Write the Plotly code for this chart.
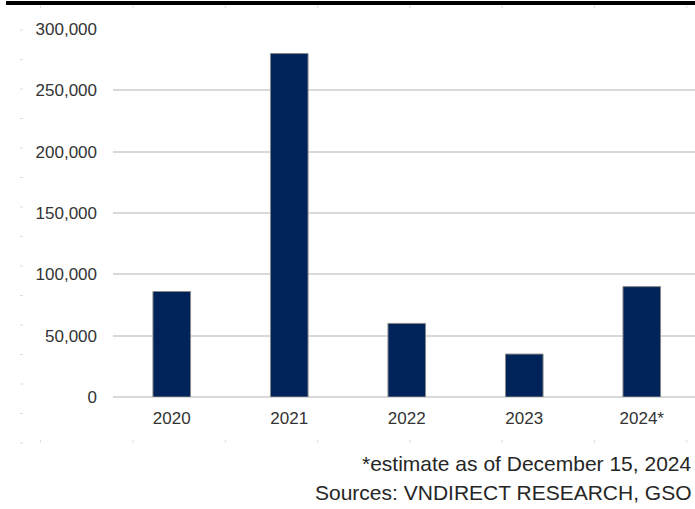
import plotly.graph_objects as go

categories = ["2020", "2021", "2022", "2023", "2024*"]
values = [86000, 280000, 60000, 35000, 90000]
y_ticks = [0, 50000, 100000, 150000, 200000, 250000, 300000]
y_tick_labels = ["0", "50,000", "100,000", "150,000", "200,000", "250,000", "300,000"]
note_lines = ["*estimate as of December 15, 2024", "Sources: VNDIRECT RESEARCH, GSO"]

W, H = 695, 509
ML, MR, MT, MB = 113, 0, 29, 112
PW, PH = W - ML - MR, H - MT - MB

def px_x(x):
    return (x - ML) / PW

def px_y(y):
    return (H - MB - y) / PH

fig = go.Figure()
fig.add_trace(go.Bar(
    x=categories, y=values, width=0.32,
    marker=dict(color="#00245a", line=dict(color="#8a8a8a", width=1)),
    hoverinfo="x+y",
))

shapes = []
# top black rule
shapes.append(dict(type="line", xref="paper", yref="paper",
                   x0=px_x(6), x1=px_x(695), y0=px_y(3), y1=px_y(3),
                   line=dict(color="#000000", width=4)))
# faint ruler ticks (decoration)
for i in range(8):
    xx = 40.7 + i * 92.3
    shapes.append(dict(type="line", xref="paper", yref="paper",
                       x0=px_x(xx), x1=px_x(xx), y0=px_y(5), y1=px_y(8),
                       line=dict(color="#dddddd", width=1)))
    shapes.append(dict(type="line", xref="paper", yref="paper",
                       x0=px_x(xx), x1=px_x(xx), y0=px_y(440), y1=px_y(443),
                       line=dict(color="#dddddd", width=1)))
for j in range(15):
    yy = 30 + j * 29.5
    shapes.append(dict(type="line", xref="paper", yref="paper",
                       x0=px_x(20), x1=px_x(23), y0=px_y(yy), y1=px_y(yy),
                       line=dict(color="#dddddd", width=1)))

annotations = []
for k, (txt, yc) in enumerate(zip(note_lines, [463.5, 492])):
    annotations.append(dict(text=txt, xref="paper", yref="paper",
                            x=px_x(694), y=px_y(yc), xanchor="right", yanchor="middle",
                            showarrow=False,
                            font=dict(family="Liberation Sans, Arial", size=21, color="#262626")))

fig.update_layout(
    width=W, height=H,
    margin=dict(l=ML, r=MR, t=MT, b=MB, pad=0),
    plot_bgcolor="white", paper_bgcolor="white",
    showlegend=False,
    bargap=0.68,
    font=dict(family="Liberation Sans, Arial", size=17, color="#333333"),
    xaxis=dict(type="category", range=[-0.5, 4.453], showgrid=False,
               showline=False, zeroline=False, ticks="", ticklabelstandoff=9,
               tickfont=dict(size=17, color="#333333")),
    yaxis=dict(range=[0, 300000], tickvals=y_ticks, ticktext=y_tick_labels,
               showgrid=True, gridcolor="#d9d9d9", gridwidth=1.5,
               zeroline=True, zerolinecolor="#d9d9d9", zerolinewidth=1.5,
               showline=False, ticks="", ticklabelstandoff=15,
               tickfont=dict(size=17, color="#333333")),
    shapes=shapes,
    annotations=annotations,
)

fig.write_html("out.html", config={"displayModeBar": False},
               post_script="document.body.style.margin='0';document.body.style.padding='0';")
